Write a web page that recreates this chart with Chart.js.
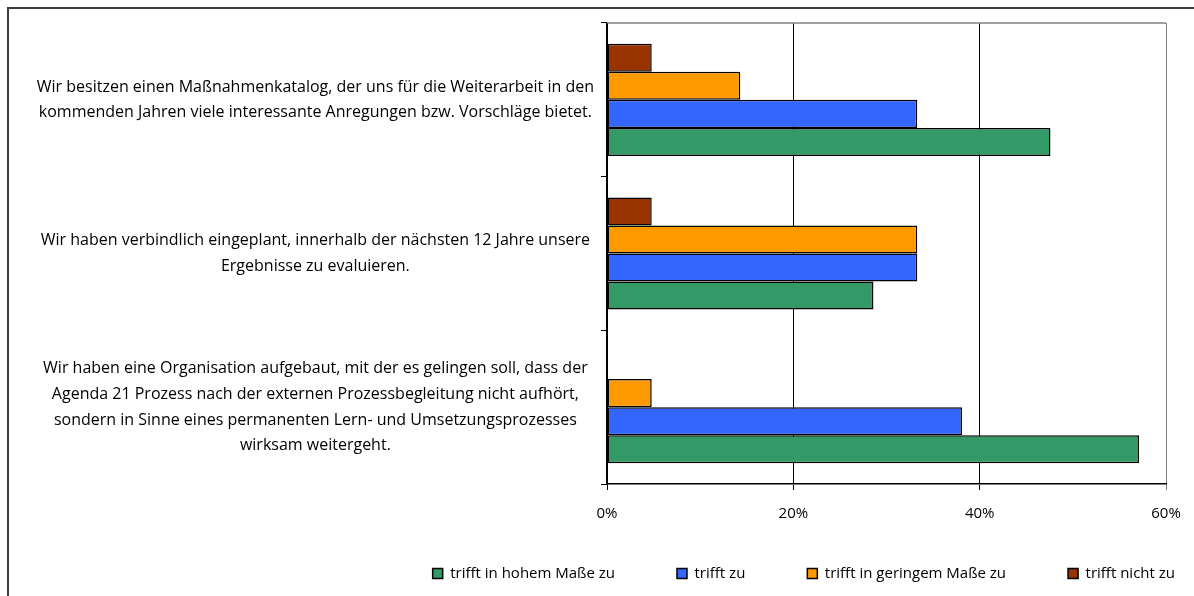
<!DOCTYPE html>
<html>
<head>
<meta charset="utf-8">
<script src="https://cdn.jsdelivr.net/npm/chart.js@4/dist/chart.umd.min.js"></script>
<style>
body{margin:0;background:#fff;overflow:hidden}
#box{position:absolute;left:7px;top:7px;width:1186px;height:588px;border-left:2px solid #3c3c3c;border-top:2px solid #3c3c3c}
</style>
</head>
<body>
<div id="box"><canvas id="myChart"></canvas></div>
<script>
// Fragen (von oben nach unten)
var questions = [
    ['Wir besitzen einen Maßnahmenkatalog, der uns für die Weiterarbeit in den', 'kommenden Jahren viele interessante Anregungen bzw. Vorschläge bietet.'],
    ['Wir haben verbindlich eingeplant, innerhalb der nächsten 12 Jahre unsere', 'Ergebnisse zu evaluieren.'],
    ['Wir haben eine Organisation aufgebaut, mit der es gelingen soll, dass der', 'Agenda 21 Prozess nach der externen Prozessbegleitung nicht aufhört,', 'sondern in Sinne eines permanenten Lern- und Umsetzungsprozesses', 'wirksam weitergeht.']
]
// Anteile in %
var hohem = [47.6, 28.6, 57.1]
var zu = [33.3, 33.3, 38.1]
var gering = [14.3, 33.3, 4.8]
var nicht = [4.8, 4.8, 0]
var xTicks = [0, 20, 40, 60]

var font = {family: 'Open Sans', size: 15}
var legendGap = 62

var topLine = {
    id: 'topLine',
    afterDraw(chart) {
        let a = chart.chartArea, c = chart.ctx
        c.save()
        c.strokeStyle = '#808080'
        c.lineWidth = 1.5
        c.beginPath()
        c.moveTo(a.left, a.top)
        c.lineTo(a.right, a.top)
        c.stroke()
        c.restore()
    }
}
// the wide legend padding also pushes the items down, so start the legend box higher
var legendUp = {
    id: 'legendUp',
    afterLayout(chart) {
        chart.legend.top -= legendGap - 45
    }
}

var ctx = document.getElementById('myChart').getContext('2d')
var myChart = new Chart(ctx, {
    type: 'bar',
    data: {
        labels: questions,
        datasets: [
            {label: 'trifft nicht zu', data: nicht, backgroundColor: '#993300'},
            {label: 'trifft in geringem Maße zu', data: gering, backgroundColor: '#FF9900'},
            {label: 'trifft zu', data: zu, backgroundColor: '#3366FF'},
            {label: 'trifft in hohem Maße zu', data: hohem, backgroundColor: '#339966'}
        ]
    },
    plugins: [topLine, legendUp],
    options: {
        indexAxis: 'y',
        responsive: true,
        maintainAspectRatio: false,
        animation: false,
        layout: {padding: {top: 14, right: 20 - legendGap, bottom: 6, left: 0}},
        datasets: {
            bar: {
                borderColor: '#000',
                borderWidth: 1.5,
                borderSkipped: false,
                barPercentage: 1,
                categoryPercentage: 0.73
            }
        },
        scales: {
            x: {
                min: 0,
                max: 60,
                afterBuildTicks: s => { s.ticks = xTicks.map(v => ({value: v})) },
                afterFit: s => { s.height = 37; s.paddingRight = 29 },
                ticks: {callback: v => v + '%', color: '#000', font: font, padding: 15, maxRotation: 0},
                grid: {
                    color: c => c.tick && c.tick.value === 60 ? '#808080' : '#000',
                    lineWidth: 1,
                    tickLength: 6
                },
                border: {color: '#000', width: 1.5}
            },
            y: {
                afterFit: s => { s.width = 598; s.paddingTop = 0; s.paddingBottom = 0 },
                ticks: {color: '#000', font: {family: 'Open Sans', size: 16, lineHeight: 1.6}, crossAlign: 'center', padding: 7},
                grid: {drawOnChartArea: false, color: '#000', tickLength: 6},
                border: {color: '#000', width: 1.5}
            }
        },
        plugins: {
            tooltip: {enabled: false},
            legend: {
                position: 'bottom',
                align: 'end',
                reverse: true,
                maxHeight: 70,
                labels: {
                    color: '#000',
                    font: font,
                    boxWidth: 10,
                    boxHeight: 10,
                    padding: legendGap,
                    generateLabels: chart => chart.data.datasets.map((d, i) => ({
                        text: d.label,
                        fillStyle: d.backgroundColor,
                        strokeStyle: '#000',
                        lineWidth: 1.5,
                        datasetIndex: i
                    }))
                }
            }
        }
    }
})
</script>
</body>
</html>
